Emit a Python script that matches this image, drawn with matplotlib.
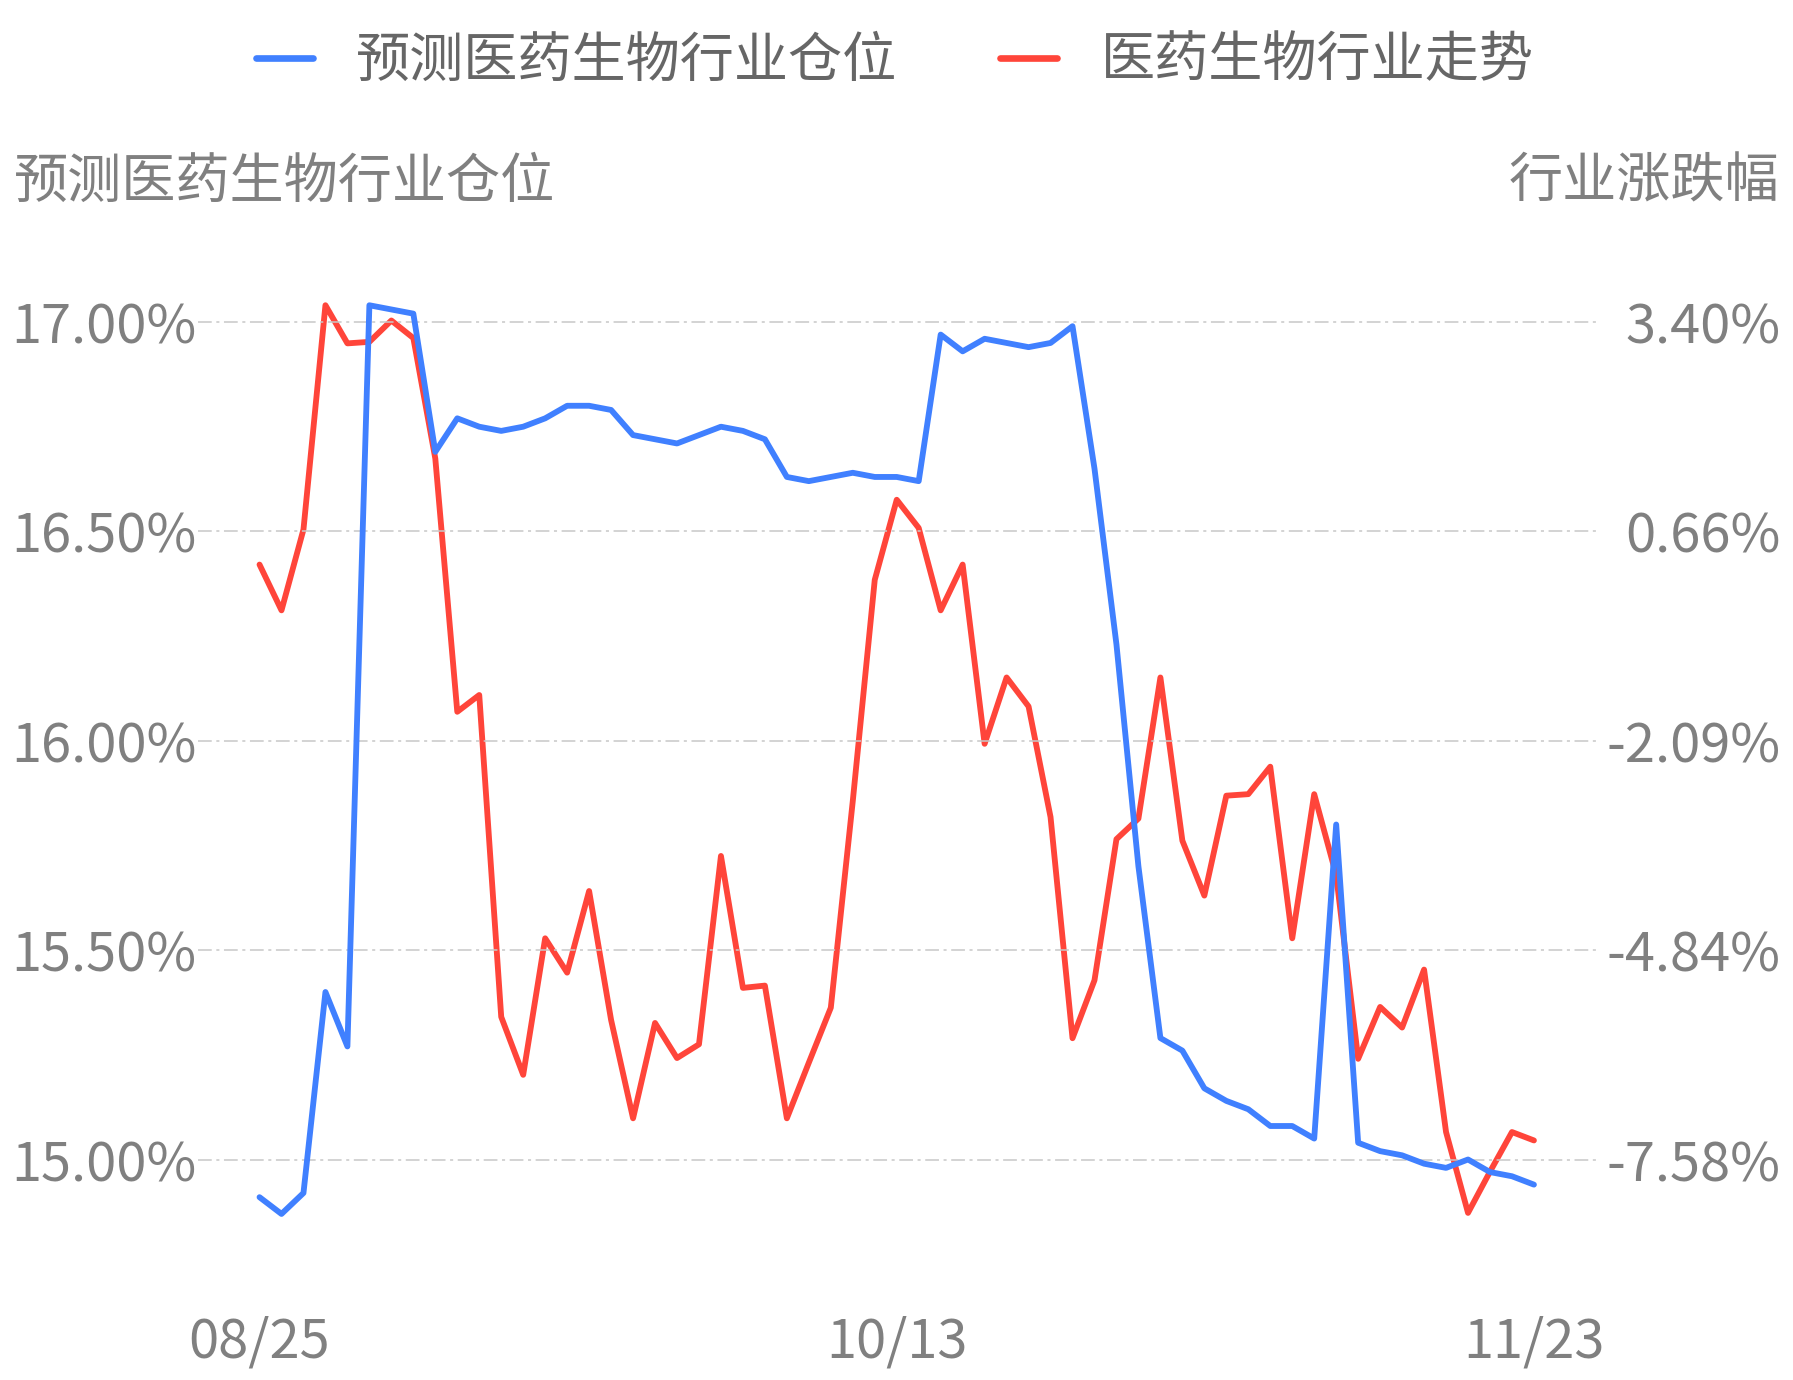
import numpy as np
import matplotlib
matplotlib.use("Agg")
import matplotlib.pyplot as plt
from matplotlib.lines import Line2D

plt.rcParams['font.family'] = ['Noto Sans CJK SC', 'DejaVu Sans']

# ------------------------------
# 数据
# ------------------------------
x_labels = ["08/25", "10/13", "11/23"]
x_label_idx = [0, 29, 58]

# 预测医药生物行业仓位 (%)
cangwei = [14.91, 14.87, 14.92, 15.40, 15.27, 17.04, 17.03, 17.02, 16.69, 16.77,
           16.75, 16.74, 16.75, 16.77, 16.80, 16.80, 16.79, 16.73, 16.72, 16.71,
           16.73, 16.75, 16.74, 16.72, 16.63, 16.62, 16.63, 16.64, 16.63, 16.63,
           16.62, 16.97, 16.93, 16.96, 16.95, 16.94, 16.95, 16.99, 16.65, 16.23,
           15.70, 15.29, 15.26, 15.17, 15.14, 15.12, 15.08, 15.08, 15.05, 15.80,
           15.04, 15.02, 15.01, 14.99, 14.98, 15.00, 14.97, 14.96, 14.94]

# 医药生物行业走势 (%)
zoushi = [0.22, -0.38, 0.68, 3.62, 3.12, 3.14, 3.42, 3.19, 1.61, -1.71,
          -1.49, -5.71, -6.47, -4.68, -5.13, -4.06, -5.75, -7.04, -5.79, -6.25,
          -6.07, -3.60, -5.33, -5.30, -7.04, -6.31, -5.59, -2.88, 0.02, 1.07,
          0.70, -0.38, 0.22, -2.13, -1.26, -1.64, -3.09, -5.99, -5.23, -3.38,
          -3.11, -1.26, -3.40, -4.12, -2.81, -2.79, -2.43, -4.68, -2.79, -3.85,
          -6.26, -5.58, -5.85, -5.09, -7.22, -8.28, -7.74, -7.22, -7.33]

left_ticks = [15.0, 15.5, 16.0, 16.5, 17.0]
left_labels = ["15.00%", "15.50%", "16.00%", "16.50%", "17.00%"]
right_labels = ["-7.58%", "-4.84%", "-2.09%", "0.66%", "3.40%"]
right_lo, right_hi = -7.58, 3.40

BLUE = "#4080FF"
RED = "#FF453A"
GRID = "#C8C8C8"
TXT = "#808080"
LEG = "#666666"
FS = 39
LW = 4.2

# ------------------------------
# 图
# ------------------------------
W, H = 1793, 1380
fig = plt.figure(figsize=(W / 100, H / 100), dpi=100)
ax = fig.add_axes([198 / W, 1 - 1260 / H, (1597 - 198) / W, (1260 - 250) / H])
ax2 = ax.twinx()

x = np.arange(len(cangwei))
ax.plot(x, cangwei, color=BLUE, lw=LW, solid_capstyle="round", solid_joinstyle="round", zorder=3)
ax2.plot(x, zoushi, color=RED, lw=LW, solid_capstyle="round", solid_joinstyle="round", zorder=3)

# blå linje over rød
ax.set_zorder(ax2.get_zorder() + 1)
ax.patch.set_visible(False)

ylo, yhi = 14.76, 17.172
ax.set_ylim(ylo, yhi)
scale = (right_hi - right_lo) / (left_ticks[-1] - left_ticks[0])
ax2.set_ylim(right_lo + (ylo - left_ticks[0]) * scale, right_lo + (yhi - left_ticks[0]) * scale)
ax.set_xlim(-2.8, len(x) - 1 + 2.87)

ax.set_yticks(left_ticks)
ax.set_yticklabels(left_labels)
ax2.set_yticks(np.linspace(right_lo, right_hi, len(right_labels)))
ax2.set_yticklabels(right_labels, ha="right")
ax.set_xticks(x_label_idx)
ax.set_xticklabels(x_labels)

ax.tick_params(axis="y", length=0, pad=1.0, labelsize=FS, labelcolor=TXT)
ax.tick_params(axis="x", length=0, pad=39, labelsize=FS, labelcolor=TXT)
ax2.tick_params(axis="y", length=0, pad=132, labelsize=FS, labelcolor=TXT)

ax.grid(axis="y", color=GRID, lw=1.1, linestyle=(0, (9, 3, 2, 3)))
for a in (ax, ax2):
    for s in a.spines.values():
        s.set_visible(False)

# aksetitler
fig.text(14 / W, 1 - 182 / H, "预测医药生物行业仓位", ha="left", va="center", fontsize=FS, color=TXT)
fig.text(1779 / W, 1 - 182 / H, "行业涨跌幅", ha="right", va="center", fontsize=FS, color=TXT)

# legend
handles = [Line2D([], [], color=BLUE, lw=4.8, solid_capstyle="round"),
           Line2D([], [], color=RED, lw=4.8, solid_capstyle="round")]
leg = fig.legend(handles, ["预测医药生物行业仓位", "医药生物行业走势"], loc="center left",
                 bbox_to_anchor=(256 / W, 1 - 61 / H), ncol=2, frameon=False, fontsize=FS,
                 handlelength=1.05, handletextpad=0.8, columnspacing=1.9,
                 borderpad=0, borderaxespad=0)
for t in leg.get_texts():
    t.set_color(LEG)

fig.savefig("out.png", dpi=100)
